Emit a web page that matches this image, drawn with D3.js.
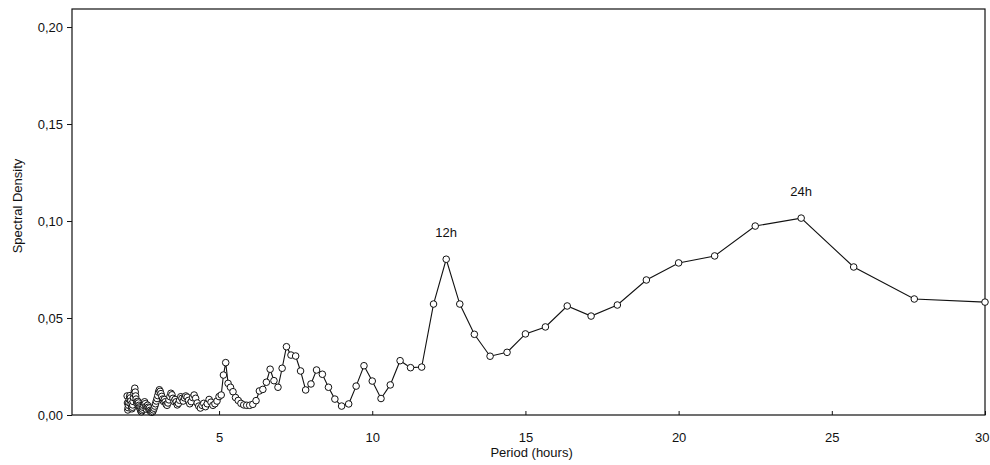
<!DOCTYPE html>
<html>
<head>
<meta charset="utf-8">
<script src="https://cdnjs.cloudflare.com/ajax/libs/d3/7.8.5/d3.min.js"></script>
<style>
    body { margin: 0; background: #fff; }
    text { font-family: "Liberation Sans", Arial, sans-serif; fill: #111; }
</style>
</head>
<body>
<div id="chart"></div>
<script>

// Chart data
// ============================================

// Periods (hours), shortest to longest
var periods = [
    2, 2.011, 2.022, 2.034, 2.045, 2.057, 2.069, 2.081, 2.093, 2.105,
    2.118, 2.130, 2.143, 2.156, 2.169, 2.182, 2.195, 2.209, 2.222, 2.236,
    2.25, 2.264, 2.278, 2.293, 2.308, 2.323, 2.338, 2.353, 2.368, 2.384,
    2.4, 2.416, 2.432, 2.449, 2.466, 2.483, 2.5, 2.517, 2.535, 2.553,
    2.571, 2.590, 2.609, 2.628, 2.647, 2.667, 2.687, 2.707, 2.727, 2.748,
    2.769, 2.791, 2.813, 2.835, 2.857, 2.88, 2.903, 2.927, 2.951, 2.975,
    3, 3.025, 3.051, 3.077, 3.103, 3.130, 3.158, 3.186, 3.214, 3.243,
    3.273, 3.303, 3.333, 3.364, 3.396, 3.429, 3.462, 3.495, 3.529, 3.564,
    3.6, 3.636, 3.673, 3.711, 3.75, 3.789, 3.830, 3.871, 3.913, 3.956,
    4, 4.045, 4.091, 4.138, 4.186, 4.235, 4.286, 4.337, 4.390, 4.444,
    4.5, 4.557, 4.615, 4.675, 4.737, 4.8, 4.865, 4.932, 5, 5.070,
    5.143, 5.217, 5.294, 5.373, 5.455, 5.538, 5.625, 5.714, 5.806, 5.902,
    6, 6.102, 6.207, 6.316, 6.429, 6.545, 6.667, 6.792, 6.923, 7.059,
    7.2, 7.347, 7.5, 7.660, 7.826, 8, 8.182, 8.372, 8.571, 8.780,
    9, 9.231, 9.474, 9.730, 10, 10.286, 10.588, 10.909, 11.25, 11.613,
    12, 12.414, 12.857, 13.333, 13.846, 14.4, 15, 15.652, 16.364, 17.143,
    18, 18.947, 20, 21.176, 22.5, 24, 25.714, 27.692, 30
];

// Spectral density for each period
var density = [
    0.0098, 0.0062, 0.0026, 0.0038, 0.0050, 0.0064, 0.0080, 0.0094, 0.0100, 0.0088,
    0.0072, 0.0055, 0.0040, 0.0032, 0.0040, 0.0052, 0.0070, 0.0090, 0.0110, 0.0125,
    0.0138, 0.0118, 0.0098, 0.0082, 0.0068, 0.0058, 0.0066, 0.0070, 0.0062, 0.0050,
    0.0042, 0.0036, 0.0028, 0.0020, 0.0016, 0.0022, 0.0030, 0.0040, 0.0050, 0.0062,
    0.0068, 0.0058, 0.0044, 0.0030, 0.0042, 0.0050, 0.0040, 0.0030, 0.0036, 0.0024,
    0.0016, 0.0020, 0.0014, 0.0018, 0.0026, 0.0035, 0.0046, 0.0058, 0.0072, 0.0085,
    0.0100, 0.0118, 0.0130, 0.0122, 0.0110, 0.0096, 0.0082, 0.0070, 0.0080, 0.0068,
    0.0055, 0.0050, 0.0062, 0.0078, 0.0095, 0.0112, 0.0104, 0.0086, 0.0070, 0.0080,
    0.0068, 0.0052, 0.0060, 0.0076, 0.0094, 0.0086, 0.0072, 0.0088, 0.0098, 0.0092,
    0.0075, 0.0058, 0.0069, 0.0090, 0.0103, 0.0086, 0.0062, 0.0046, 0.0036, 0.0050,
    0.0060, 0.0043, 0.0058, 0.0080, 0.0066, 0.0050, 0.0058, 0.0072, 0.0095, 0.0103,
    0.0206, 0.0270, 0.0163, 0.0143, 0.0120, 0.0090, 0.0075, 0.0060, 0.0052, 0.0050,
    0.0050, 0.0055, 0.0074, 0.0124, 0.0132, 0.0169, 0.0236, 0.0177, 0.0143, 0.0241,
    0.0352, 0.0309, 0.0304, 0.0227, 0.0129, 0.0160, 0.0232, 0.0210, 0.0143, 0.0082,
    0.0046, 0.0057, 0.0149, 0.0254, 0.0175, 0.0085, 0.0155, 0.0280, 0.0244, 0.0247,
    0.0572, 0.0803, 0.0572, 0.0416, 0.0303, 0.0323, 0.0418, 0.0454, 0.0562, 0.0510,
    0.0567, 0.0696, 0.0784, 0.0820, 0.0974, 0.1015, 0.0763, 0.0598, 0.0582
];

// Tick values
var xTicks = [5, 10, 15, 20, 25, 30];
var yTicks = [0, 0.05, 0.10, 0.15, 0.20];

// Peak labels
var peakLabels = ["12h", "24h"];
var peakPeriods = [12.414, 24];
var peakValues = [0.0803, 0.1015];

// Set up the chart
// ================================
var svgWidth = 990;
var svgHeight = 465;

var margin = {
    top: 9,
    right: 5,
    bottom: 50,
    left: 72
};

var chartWidth = svgWidth - margin.left - margin.right;
var chartHeight = svgHeight - margin.top - margin.bottom;

var svg = d3.select("#chart")
    .append("svg")
    .attr("width", svgWidth)
    .attr("height", svgHeight);

var chartGroup = svg.append("g")
    .attr("transform", `translate(${margin.left}, ${margin.top})`);

// Scales
// ============================================
var xScale = d3.scaleLinear().domain([0.2, 30]).range([0, chartWidth]);
var yScale = d3.scaleLinear().domain([0, 0.2093]).range([chartHeight, 0]);

var commaFormat = v => d3.format(".2f")(v).replace(".", ",");

// Axes
// ============================================
var bottomAxis = d3.axisBottom(xScale)
    .tickValues(xTicks)
    .tickSize(-4)
    .tickPadding(18);

var leftAxis = d3.axisLeft(yScale)
    .tickValues(yTicks)
    .tickSize(5)
    .tickFormat(commaFormat)
    .tickPadding(4);

var xAxis = chartGroup.append("g")
    .attr("transform", `translate(0, ${chartHeight})`)
    .call(bottomAxis);

var yAxis = chartGroup.append("g")
    .call(leftAxis);

[xAxis, yAxis].forEach(axis => {
    axis.select(".domain").remove();
    axis.selectAll("line").attr("stroke", "#111");
    axis.selectAll("text")
        .style("font-size", "13px")
        .style("font-family", "'Liberation Sans', Arial, sans-serif");
});

// keep the last x label inside the window
xAxis.selectAll(".tick text")
    .filter(d => d === 30)
    .attr("text-anchor", "end")
    .attr("dx", 4);

// Frame round the plot
chartGroup.append("rect")
    .attr("width", chartWidth)
    .attr("height", chartHeight)
    .attr("fill", "none")
    .attr("stroke", "#111")
    .attr("stroke-width", 1.2);

// Axis labels
// ==============================
chartGroup.append("text")
    .attr("transform", "rotate(-90)")
    .attr("x", -chartHeight / 2 + 6)
    .attr("y", 22 - margin.left)
    .attr("text-anchor", "middle")
    .style("font-size", "13px")
    .text("Spectral Density");

chartGroup.append("text")
    .attr("x", xScale(15.2))
    .attr("y", chartHeight + 42)
    .attr("text-anchor", "middle")
    .style("font-size", "13px")
    .text("Period (hours)");

// Line and points
// ===============================
var points = periods.map((p, i) => ({ period: p, value: density[i] }));

var line = d3.line()
    .x(d => xScale(d.period))
    .y(d => yScale(d.value));

chartGroup.append("path")
    .datum(points)
    .attr("d", line)
    .attr("fill", "none")
    .attr("stroke", "#111")
    .attr("stroke-width", 1.1);

chartGroup.append("g")
    .selectAll("circle")
    .data(points)
    .enter()
    .append("circle")
    .attr("cx", d => xScale(d.period))
    .attr("cy", d => yScale(d.value))
    .attr("r", 3.3)
    .attr("fill", "#fff")
    .attr("stroke", "#111")
    .attr("stroke-width", 1);

// Peak annotations
// =========================
chartGroup.append("g")
    .selectAll("text")
    .data(peakLabels)
    .enter()
    .append("text")
    .attr("x", (d, i) => xScale(peakPeriods[i]))
    .attr("y", (d, i) => yScale(peakValues[i]) - 22)
    .attr("text-anchor", "middle")
    .style("font-size", "13px")
    .text(d => d);

</script>
</body>
</html>
